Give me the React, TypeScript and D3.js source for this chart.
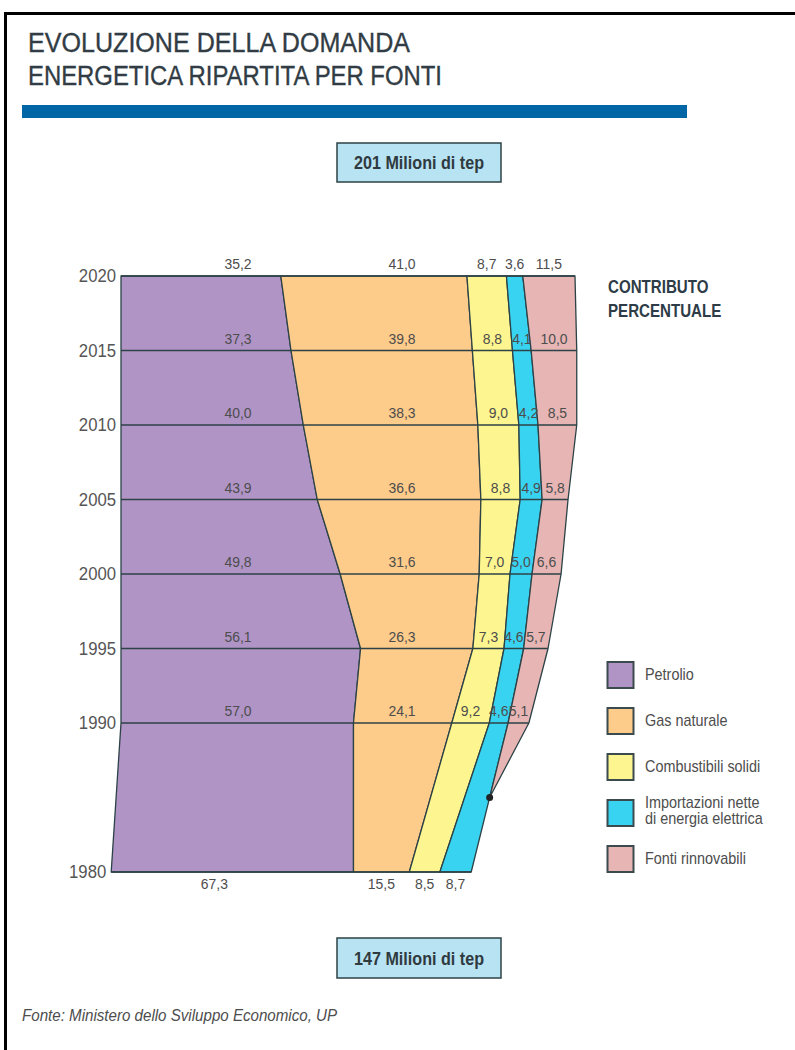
import { line, scaleLinear, scalePoint } from "d3";
import type { ReactNode } from "react";

// Anni in ordine dall'alto (2020) verso il basso (1980)
const anni = [2020, 2015, 2010, 2005, 2000, 1995, 1990, 1980];
// Domanda totale (Mtep): 201 e 147 dal grafico, gli altri stimati dalla larghezza delle fasce
const totaliMtep = [201, 202, 202, 197, 193, 185.5, 174.5, 147];

const petrolio = [35.2, 37.3, 40.0, 43.9, 49.8, 56.1, 57.0, 67.3];
const gasNaturale = [41.0, 39.8, 38.3, 36.6, 31.6, 26.3, 24.1, 15.5];
const combustibiliSolidi = [8.7, 8.8, 9.0, 8.8, 7.0, 7.3, 9.2, 8.5];
const importazioni = [3.6, 4.1, 4.2, 4.9, 5.0, 4.6, 4.6, 8.7];
const rinnovabili = [11.5, 10.0, 8.5, 5.8, 6.6, 5.7, 5.1, 0];

// anno in cui le rinnovabili si annullano (punto nero)
const ANNO_ZERO_RINNOVABILI = 1985;

const legenda = [
  ["Petrolio"],
  ["Gas naturale"],
  ["Combustibili solidi"],
  ["Importazioni nette", "di energia elettrica"],
  ["Fonti rinnovabili"]
];

const COLORI = ["#b094c6", "#fdcb8a", "#fdf58f", "#39d3f2", "#e6b5b4"];
const STROKE = "#2c4246";
const TEXT = "#4d4d4d";
const FONT = "'Liberation Sans', Arial, sans-serif";

const WIDTH = 795;
const HEIGHT = 1050;
const X_LEFT = 121;
const CONDENSE = 0.88;

const serie = [petrolio, gasNaturale, combustibiliSolidi, importazioni, rinnovabili];

const fmt = (v: number) => v.toFixed(1).replace(".", ",");

type CondProps = {
  x: number;
  y: number;
  size: number;
  anchor?: "start" | "middle" | "end";
  fill?: string;
  weight?: string;
  italic?: boolean;
  sx?: number;
  children: ReactNode;
};

// testo "condensato": il font di riferimento e' un Helvetica Condensed
function Cond({ x, y, size, anchor = "start", fill = TEXT, weight, italic, sx = CONDENSE, children }: CondProps) {
  return (
    <text
      transform={`translate(${x},${y}) scale(${sx},1)`}
      textAnchor={anchor}
      fontSize={size}
      fill={fill}
      fontWeight={weight}
      fontStyle={italic ? "italic" : undefined}
    >
      {children}
    </text>
  );
}

export default function App() {
  const yScale = scaleLinear().domain([2020, 1980]).range([276, 872]);
  const widthScale = scaleLinear().domain([147, 201]).range([360, 454]);

  const rows = anni.map((anno, i) => {
    const quote = serie.map((s) => s[i]);
    return { anno, y: yScale(anno), w: widthScale(totaliMtep[i]), quote };
  });

  // limiti di ogni fascia per riga
  const idx1990 = anni.indexOf(1990);
  const r1990 = rows[idx1990];
  const confine1990 = X_LEFT + (r1990.w * r1990.quote[0]) / 100;

  const bounds = rows.map((r) => {
    // l'anno base (1980) e' allineato sul confine petrolio/gas del 1990
    const left = r.anno < 1990 ? confine1990 - (r.w * r.quote[0]) / 100 : X_LEFT;
    const b = [left];
    let acc = 0;
    r.quote.forEach((q) => {
      acc += q;
      b.push(left + (r.w * acc) / 100);
    });
    return b;
  });

  const base = rows.length - 1;
  const t = (ANNO_ZERO_RINNOVABILI - 1990) / (anni[base] - 1990);
  const zeroX = bounds[idx1990][4] + (bounds[base][4] - bounds[idx1990][4]) * t;
  const zeroY = yScale(ANNO_ZERO_RINNOVABILI);

  const path = line<[number, number]>();

  const bande = serie.map((_, k) => {
    const usate = rows.map((r, i) => ({ r, i })).filter(({ r }) => k < 4 || r.anno >= 1990);
    const sinistra: [number, number][] = usate.map(({ r, i }) => [bounds[i][k], r.y]);
    const destra: [number, number][] = usate.map(({ r, i }) => [bounds[i][k + 1], r.y]).reverse();
    const punti = k === 4 ? [...sinistra, [zeroX, zeroY] as [number, number], ...destra] : [...sinistra, ...destra];
    return path(punti) + "Z";
  });

  const COL_PETROLIO = 238;
  const COL_GAS = 402;

  const legendY = scalePoint<number>().domain(legenda.map((_, i) => i)).range([675, 859]);

  return (
    <div style={{ position: "absolute", left: 0, top: 0 }}>
      <svg width={WIDTH} height={HEIGHT} style={{ display: "block", background: "#fff" }} fontFamily={FONT}>
        <rect x={5.5} y={13.5} width={WIDTH + 20} height={HEIGHT + 20} fill="none" stroke="#000" strokeWidth={3} />

        <text
          x={28}
          y={52}
          fontSize={27}
          fill="#313c44"
          stroke="#313c44"
          strokeWidth={0.35}
          textLength={382}
          lengthAdjust="spacingAndGlyphs"
        >
          EVOLUZIONE DELLA DOMANDA
        </text>
        <text
          x={28}
          y={85}
          fontSize={27}
          fill="#313c44"
          stroke="#313c44"
          strokeWidth={0.35}
          textLength={414}
          lengthAdjust="spacingAndGlyphs"
        >
          ENERGETICA RIPARTITA PER FONTI
        </text>
        <rect x={22} y={105} width={665} height={13} fill="#0066a6" />

        <rect x={337} y={143} width={164} height={39} fill="#b8e3f3" stroke={STROKE} strokeWidth={1.5} />
        <Cond x={419} y={169} size={19} anchor="middle" weight="bold" fill="#2f3a3f" sx={0.85}>
          201 Milioni di tep
        </Cond>

        {bande.map((d, k) => (
          <path key={k} d={d} fill={COLORI[k]} stroke={STROKE} strokeWidth={1.3} strokeLinejoin="round" />
        ))}

        {rows.map((r, i) => (
          <line key={r.anno} x1={bounds[i][0]} x2={bounds[i][5]} y1={r.y} y2={r.y} stroke={STROKE} strokeWidth={1.5} />
        ))}

        <circle cx={zeroX} cy={zeroY} r={3.5} fill="#222" />

        {rows.map((r, i) => (
          <Cond key={r.anno} x={bounds[i][0] - 5} y={r.y + 6} size={19} anchor="end" fill="#555">
            {r.anno}
          </Cond>
        ))}

        {rows.map((r, i) =>
          r.quote.map((q, k) => {
            if (q === 0) return null;
            const isBase = r.anno < 1990;
            let x = (bounds[i][k] + bounds[i][k + 1]) / 2;
            if (!isBase && k === 0) x = COL_PETROLIO;
            if (!isBase && k === 1) x = COL_GAS;
            if (isBase && k === 0) x -= 18;
            const y = isBase ? r.y + 17 : r.y - 7;
            return (
              <Cond key={`${r.anno}-${k}`} x={x} y={y} size={15.5} anchor="middle" sx={0.9}>
                {fmt(q)}
              </Cond>
            );
          })
        )}

        <Cond x={608} y={293} size={18} weight="bold" fill="#2d3c46" sx={0.84}>
          CONTRIBUTO
        </Cond>
        <Cond x={608} y={317} size={18} weight="bold" fill="#2d3c46" sx={0.84}>
          PERCENTUALE
        </Cond>

        {legenda.map((righe, i) => {
          const cy = legendY(i) ?? 0;
          return (
            <g key={i}>
              <rect x={607.5} y={cy - 13} width={26} height={26} fill={COLORI[i]} stroke="#3b4b4d" strokeWidth={2} />
              {righe.map((testo, j) => (
                <Cond key={j} x={645} y={righe.length === 1 ? cy + 5 : cy - 5 + j * 16} size={16} sx={0.9}>
                  {testo}
                </Cond>
              ))}
            </g>
          );
        })}

        <rect x={337} y={938} width={164} height={40} fill="#b8e3f3" stroke={STROKE} strokeWidth={1.5} />
        <Cond x={419} y={965} size={19} anchor="middle" weight="bold" fill="#2f3a3f" sx={0.85}>
          147 Milioni di tep
        </Cond>

        <Cond x={22} y={1021} size={17} italic sx={0.89}>
          Fonte: Ministero dello Sviluppo Economico, UP
        </Cond>
      </svg>
    </div>
  );
}
